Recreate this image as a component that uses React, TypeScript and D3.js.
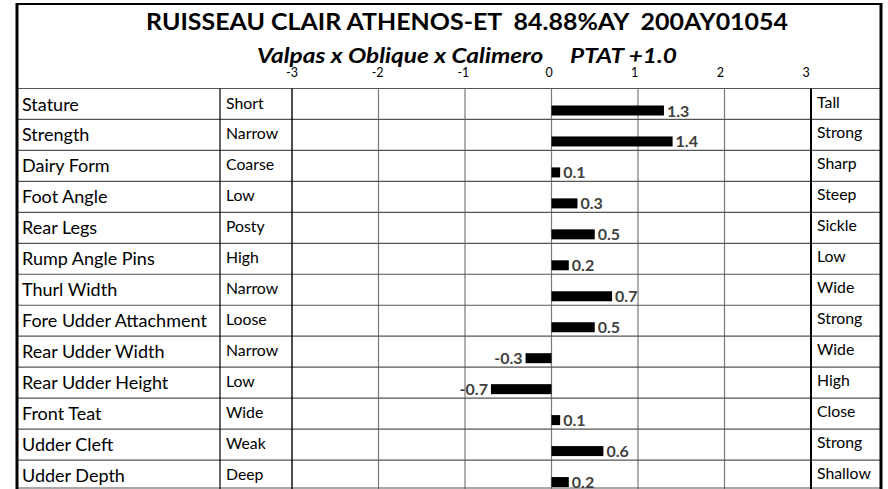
import React from "react";
import * as d3 from "d3";

const traits = [
  "Stature", "Strength", "Dairy Form", "Foot Angle", "Rear Legs", "Rump Angle Pins",
  "Thurl Width", "Fore Udder Attachment", "Rear Udder Width", "Rear Udder Height",
  "Front Teat", "Udder Cleft", "Udder Depth",
];
const lowLabels = [
  "Short", "Narrow", "Coarse", "Low", "Posty", "High",
  "Narrow", "Loose", "Narrow", "Low", "Wide", "Weak", "Deep",
];
const highLabels = [
  "Tall", "Strong", "Sharp", "Steep", "Sickle", "Low",
  "Wide", "Strong", "Wide", "High", "Close", "Strong", "Shallow",
];
const values = [1.3, 1.4, 0.1, 0.3, 0.5, 0.2, 0.7, 0.5, -0.3, -0.7, 0.1, 0.6, 0.2];
const tickValues = [-3, -2, -1, 0, 1, 2, 3];

const title = "RUISSEAU CLAIR ATHENOS-ET  84.88%AY  200AY01054";
const subtitle = "Valpas x Oblique x Calimero     PTAT +1.0";

const W = 888;
const H = 489;
const FONT = "Lato, 'Open Sans', sans-serif";

export default function App() {
  const left = 17, col1 = 220, col2 = 292, col3 = 811, right = 881;
  const top = 4;

  const x = d3.scaleLinear().domain([-3, 3]).range([col2, col3]);
  // the axis labels sit on a slightly narrower span than the grid
  const xLab = d3.scaleLinear().domain([-3, 3]).range([col2, 806]);
  const y = d3.scaleBand<string>().domain(traits).range([88.5, 491]);

  return (
    <svg width={W} height={H} style={{ position: "absolute", left: 0, top: 0, background: "#fff" }}
      fontFamily={FONT}>
      <rect x={0} y={0} width={W} height={H} fill="#fff" />

      {/* titles */}
      <text x={146} y={30} fontSize={22.5} fontWeight="bold" textLength={642} lengthAdjust="spacingAndGlyphs"
        style={{ whiteSpace: "pre" }} fill="#000">{title}</text>
      <text x={257} y={63} fontSize={21.5} fontWeight="bold" fontStyle="italic" textLength={420}
        lengthAdjust="spacingAndGlyphs" style={{ whiteSpace: "pre" }} fill="#000">{subtitle}</text>

      {/* axis labels */}
      {tickValues.map((t) => (
        <text key={"t" + t} x={xLab(t)} y={76.5} textAnchor="middle" fontSize={12.5} fill="#000">{t}</text>
      ))}

      {/* chart grid */}
      {tickValues.slice(1, -1).map((t) => (
        <line key={"g" + t} x1={x(t)} x2={x(t)} y1={88.5} y2={H} stroke="#7a7a7a" strokeWidth={1.2} />
      ))}
      {traits.map((d) => (
        <line key={"r" + d} x1={left} x2={right} y1={y(d)} y2={y(d)}
          stroke="#555" strokeWidth={1.2} />
      ))}
      <line x1={left} x2={right} y1={488} y2={488} stroke="#555" strokeWidth={1.2} />

      {/* table dividers */}
      <line x1={col1} x2={col1} y1={88.5} y2={H} stroke="#000" strokeWidth={1.2} />
      <line x1={col2} x2={col2} y1={88.5} y2={H} stroke="#000" strokeWidth={1.4} />
      <line x1={col3} x2={col3} y1={88.5} y2={H} stroke="#000" strokeWidth={2} />

      {/* outer border */}
      <line x1={left} x2={right} y1={top} y2={top} stroke="#000" strokeWidth={2} />
      <line x1={left} x2={left} y1={top - 1} y2={H} stroke="#000" strokeWidth={3} />
      <line x1={right} x2={right} y1={top - 1} y2={H} stroke="#000" strokeWidth={3} />

      {/* row texts */}
      {traits.map((d, i) => (
        <g key={"row" + d}>
          <text x={22} y={(y(d) as number) + 22} fontSize={18} fill="#000">{d}</text>
          <text x={226} y={(y(d) as number) + 20} fontSize={15.8} fill="#000">{lowLabels[i]}</text>
          <text x={817} y={(y(d) as number) + 19} fontSize={15.8} fill="#000">{highLabels[i]}</text>
        </g>
      ))}

      {/* bars */}
      {traits.map((d, i) => {
        const v = values[i];
        const y0 = (y(d) as number) + 17;
        return (
          <g key={"bar" + d}>
            <rect x={Math.min(x(0), x(v))} y={y0} width={Math.abs(x(v) - x(0))} height={10} fill="#000" />
            <text x={v >= 0 ? x(v) + 3 : x(v) - 3} y={(y(d) as number) + 28}
              textAnchor={v >= 0 ? "start" : "end"} fontSize={16} fontWeight="bold" fill="#404040">
              {v.toFixed(1)}
            </text>
          </g>
        );
      })}
    </svg>
  );
}
